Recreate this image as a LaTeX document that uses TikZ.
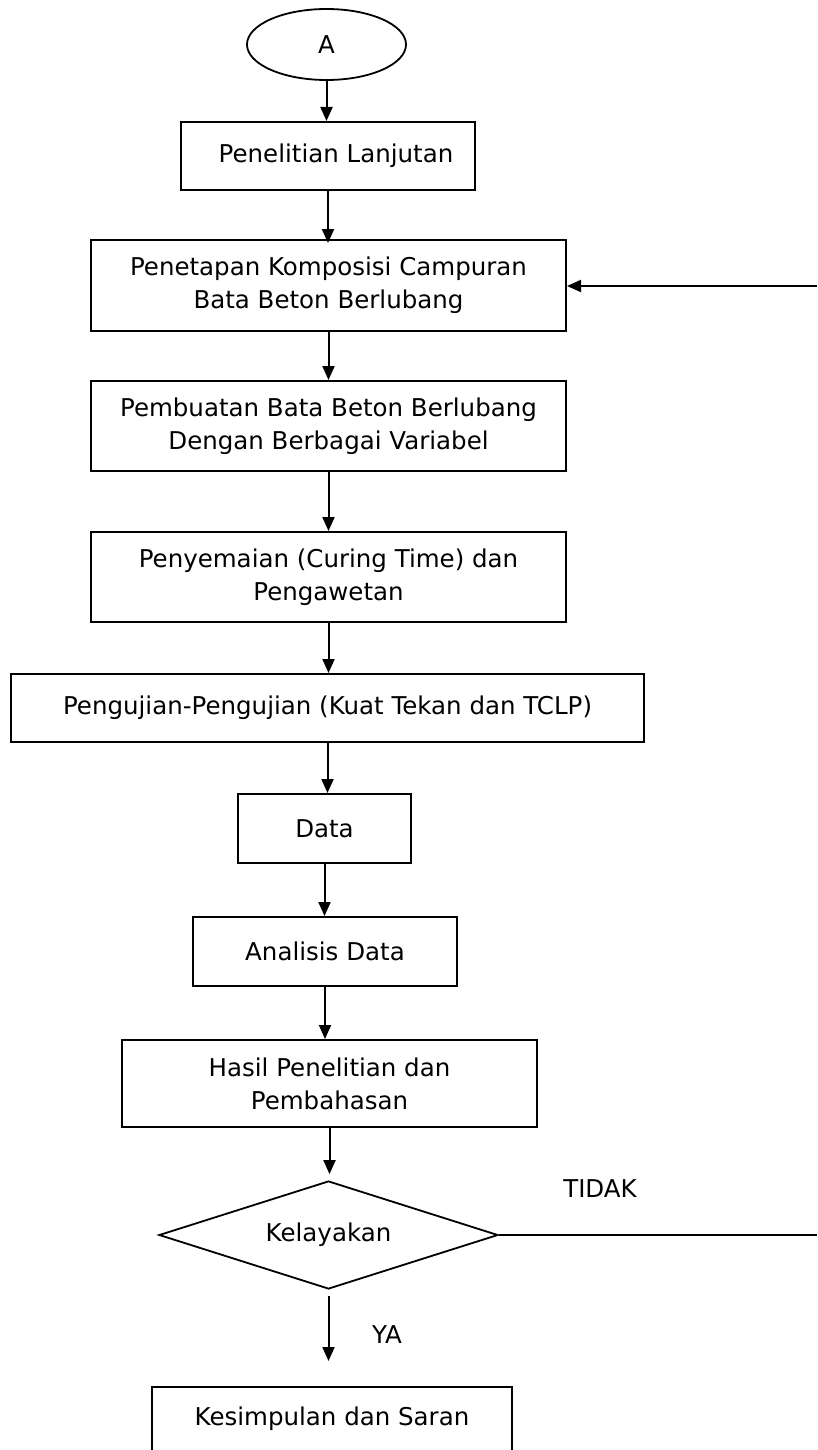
\documentclass[tikz,border=0pt]{standalone}
\usepackage{fontspec}
\setmainfont{DejaVu Sans}
\usetikzlibrary{shapes.geometric,arrows.meta}
\begin{document}
\begin{tikzpicture}[x=1pt,y=-1pt,
  every node/.style={font=\fontsize{24.5}{33}\selectfont},
  box/.style={draw,line width=2pt,rectangle,inner sep=0pt,align=center},
  arr/.style={line width=2pt,-{Triangle[length=14pt,width=12pt]}},
  lbl/.style={inner sep=0pt}]
\useasboundingbox (0,0) rectangle (817,1450);
\node[draw,line width=1.8pt,ellipse,minimum width=159pt,minimum height=71pt,inner sep=0pt] (ell) at (326.5,44.5) {A};
\node[box,minimum width=294pt,minimum height=68pt] (b1) at (328,156) {\hspace*{16pt}Penelitian Lanjutan};
\node[box,minimum width=475pt,minimum height=91pt] (b2) at (328.5,285.5) {Penetapan Komposisi Campuran\\Bata Beton Berlubang};
\node[box,minimum width=475pt,minimum height=90pt] (b3) at (328.5,426) {Pembuatan Bata Beton Berlubang\\Dengan Berbagai Variabel};
\node[box,minimum width=475pt,minimum height=90pt] (b4) at (328.5,577) {Penyemaian (Curing Time) dan\\Pengawetan};
\node[box,minimum width=633pt,minimum height=68pt] (b5) at (327.5,708) {Pengujian-Pengujian (Kuat Tekan dan TCLP)};
\node[box,minimum width=173pt,minimum height=69pt] (b6) at (324.5,828.5) {Data};
\node[box,minimum width=264pt,minimum height=69pt] (b7) at (325,951.5) {Analisis Data};
\node[box,minimum width=415pt,minimum height=87pt] (b8) at (329.5,1083.5) {Hasil Penelitian dan\\Pembahasan};
\node[draw,line width=1.8pt,diamond,aspect=3.14,minimum width=339pt,minimum height=108pt,inner sep=0pt] (dia) at (328.5,1235) {Kelayakan};
\node[box,minimum width=360pt,text height=25pt,text depth=60pt,inner ysep=13pt,anchor=base] (kes) at (332,1425) {Kesimpulan dan Saran};
\node[lbl] (tidak) at (600,1189) {TIDAK};
\node[lbl] (ya) at (387,1335) {YA};
\coordinate (rin) at (817,286);
\coordinate (rout) at (817,1235);
\draw[arr] (ell.south) -- (ell.south |- b1.north);
\draw[arr] (b1.south) -- ([yshift=-4pt]b1.south |- b2.north);
\draw[arr] (b2.south) -- (b2.south |- b3.north);
\draw[arr] (b3.south) -- (b3.south |- b4.north);
\draw[arr] (b4.south) -- (b4.south |- b5.north);
\draw[arr] (b5.south) -- (b5.south |- b6.north);
\draw[arr] (b6.south) -- (b6.south |- b7.north);
\draw[arr] (b7.south) -- (b7.south |- b8.north);
\draw[arr,shorten >=6pt] (b8.south) -- (b8.south |- dia.north);
\draw[arr,shorten <=6pt,shorten >=25pt] (dia.south) -- (dia.south |- kes.north);
\draw[line width=2pt] (dia.east) -- (rout);
\draw[arr] (rin) -- (rin -| b2.east);
\end{tikzpicture}
\end{document}
